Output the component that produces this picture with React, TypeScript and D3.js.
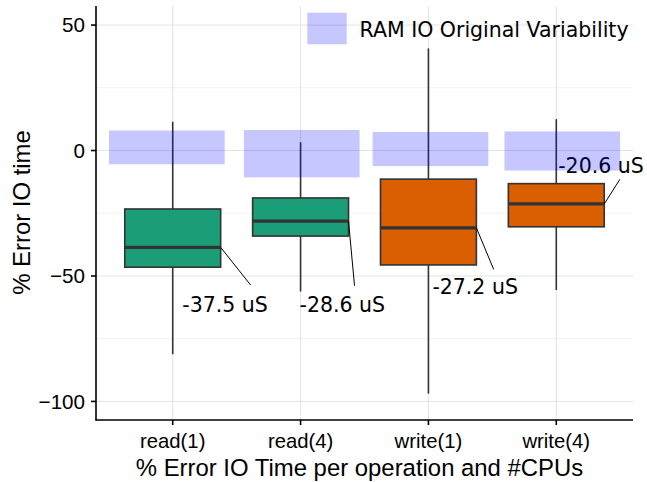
import React from "react";
import * as d3 from "d3";

const categories = ["read(1)", "read(4)", "write(1)", "write(4)"];
const groups = ["read", "read", "write", "write"];
const whiskerLow = [-81.2, -56.2, -96.9, -55.6];
const q1 = [-46.5, -34.1, -45.6, -30.4];
const medians = [-38.6, -28.1, -30.8, -21.3];
const q3 = [-23.3, -18.9, -11.4, -13.2];
const whiskerHigh = [11.5, 3.3, 40.7, 12.5];
const medianLabels = ["-37.5 uS", "-28.6 uS", "-27.2 uS", "-20.6 uS"];
const ramLow = [-5.5, -10.7, -6.2, -8.0];
const ramHigh = [8.0, 8.2, 7.4, 7.6];
const ramShift = [-0.046, 0.009, 0.016, 0.047];
const yTicks = [50, 0, -50, -100];
const yMinor = [25, -25, -75];
const legendLabel = "RAM IO Original Variability";

// label layout (pixel nudges relative to box right edge at the median)
const labelText = [[-38.4, 64.4], [-49, 90.7], [-44, 66.3], [-46, -31.3]];
const labelSeg = [[30, 37.7], [6, 64.7], [17.3, 41.6], [15.7, -24.7]];

const W = 647, H = 482;
const left = 96, right = 633, top = 6, bottom = 420;
const colors: Record<string, string> = { read: "#1b9e77", write: "#d95f02" };
const sans = "'Liberation Sans', Arial, Helvetica, sans-serif";
const dejavu = "'DejaVu Sans', sans-serif";

export default function App() {
  const x = d3.scalePoint<string>().domain(categories).range([left, right]).padding(0.6);
  const step = x.step();
  const y = d3.scaleLinear().domain([-107.4, 57.6]).range([bottom, top]);
  const boxW = step * 0.75;
  const ramW = step * 0.905;

  return (
    <svg width={W} height={H} style={{ position: "absolute", left: 0, top: 0 }}>
      <rect width={W} height={H} fill="white" />
      {/* grid */}
      {yMinor.map((v) => (
        <line key={"mn" + v} x1={left} x2={right} y1={y(v)} y2={y(v)} stroke="#f2f2f2" strokeWidth={1} />
      ))}
      {yTicks.map((v) => (
        <line key={"mj" + v} x1={left} x2={right} y1={y(v)} y2={y(v)} stroke="#e3e3e3" strokeWidth={1} />
      ))}
      {categories.map((c) => (
        <line key={"vg" + c} x1={x(c)} x2={x(c)} y1={top} y2={bottom} stroke="#e3e3e3" strokeWidth={1} />
      ))}
      {/* boxes */}
      {categories.map((c, i) => {
        const cx = x(c)!;
        return (
          <g key={"b" + c}>
            <line x1={cx} x2={cx} y1={y(q3[i])} y2={y(whiskerHigh[i])} stroke="#333" strokeWidth={1.6} />
            <line x1={cx} x2={cx} y1={y(q1[i])} y2={y(whiskerLow[i])} stroke="#333" strokeWidth={1.6} />
            <rect x={cx - boxW / 2} y={y(q3[i])} width={boxW} height={y(q1[i]) - y(q3[i])}
              fill={colors[groups[i]]} stroke="#333" strokeWidth={1.6} />
            <line x1={cx - boxW / 2} x2={cx + boxW / 2} y1={y(medians[i])} y2={y(medians[i])} stroke="#333" strokeWidth={3.2} />
          </g>
        );
      })}
      {/* labels */}
      {categories.map((c, i) => {
        const ax = x(c)! + boxW / 2;
        const ay = y(medians[i]);
        return (
          <g key={"l" + c}>
            <line x1={ax} y1={ay} x2={ax + labelSeg[i][0]} y2={ay + labelSeg[i][1]} stroke="black" strokeWidth={1} />
            <text x={ax + labelText[i][0]} y={ay + labelText[i][1]} fontFamily={dejavu} fontSize={20.5} fill="black">
              {medianLabels[i]}
            </text>
          </g>
        );
      })}
      {/* RAM variability */}
      {categories.map((c, i) => {
        const cx = x(c)! + ramShift[i] * step;
        return (
          <rect key={"r" + c} x={cx - ramW / 2} y={y(ramHigh[i])} width={ramW} height={y(ramLow[i]) - y(ramHigh[i])}
            fill="blue" fillOpacity={0.22} />
        );
      })}
      {/* axes */}
      <line x1={left} x2={left} y1={top} y2={bottom + 0.5} stroke="black" strokeWidth={1.6} />
      <line x1={left - 0.5} x2={right} y1={bottom} y2={bottom} stroke="black" strokeWidth={1.6} />
      {yTicks.map((v) => (
        <g key={"yt" + v}>
          <line x1={left - 5} x2={left} y1={y(v)} y2={y(v)} stroke="black" strokeWidth={1.6} />
          <text x={left - 11} y={y(v)} dy="0.36em" textAnchor="end" fontFamily={sans} fontSize={20.6} fill="black">
            {v < 0 ? "\u2212" + Math.abs(v) : String(v)}
          </text>
        </g>
      ))}
      {categories.map((c) => (
        <g key={"xt" + c}>
          <line x1={x(c)} x2={x(c)} y1={bottom} y2={bottom + 5} stroke="black" strokeWidth={1.6} />
          <text x={x(c)} y={448} textAnchor="middle" fontFamily={sans} fontSize={20.3} fill="black">{c}</text>
        </g>
      ))}
      <text x={(left + right) / 2 - 5} y={476} textAnchor="middle" fontFamily={sans} fontSize={23.9} fill="black">
        % Error IO Time per operation and #CPUs
      </text>
      <text transform={`translate(29.5, 212.5) rotate(-90)`} textAnchor="middle" fontFamily={sans} fontSize={23.9} fill="black">
        % Error IO time
      </text>
      {/* legend */}
      <rect x={307.3} y={12.7} width={39.4} height={31.6} fill="blue" fillOpacity={0.22} />
      <text x={359.5} y={36.7} fontFamily={dejavu} fontSize={20.5} fill="black">{legendLabel}</text>
    </svg>
  );
}
